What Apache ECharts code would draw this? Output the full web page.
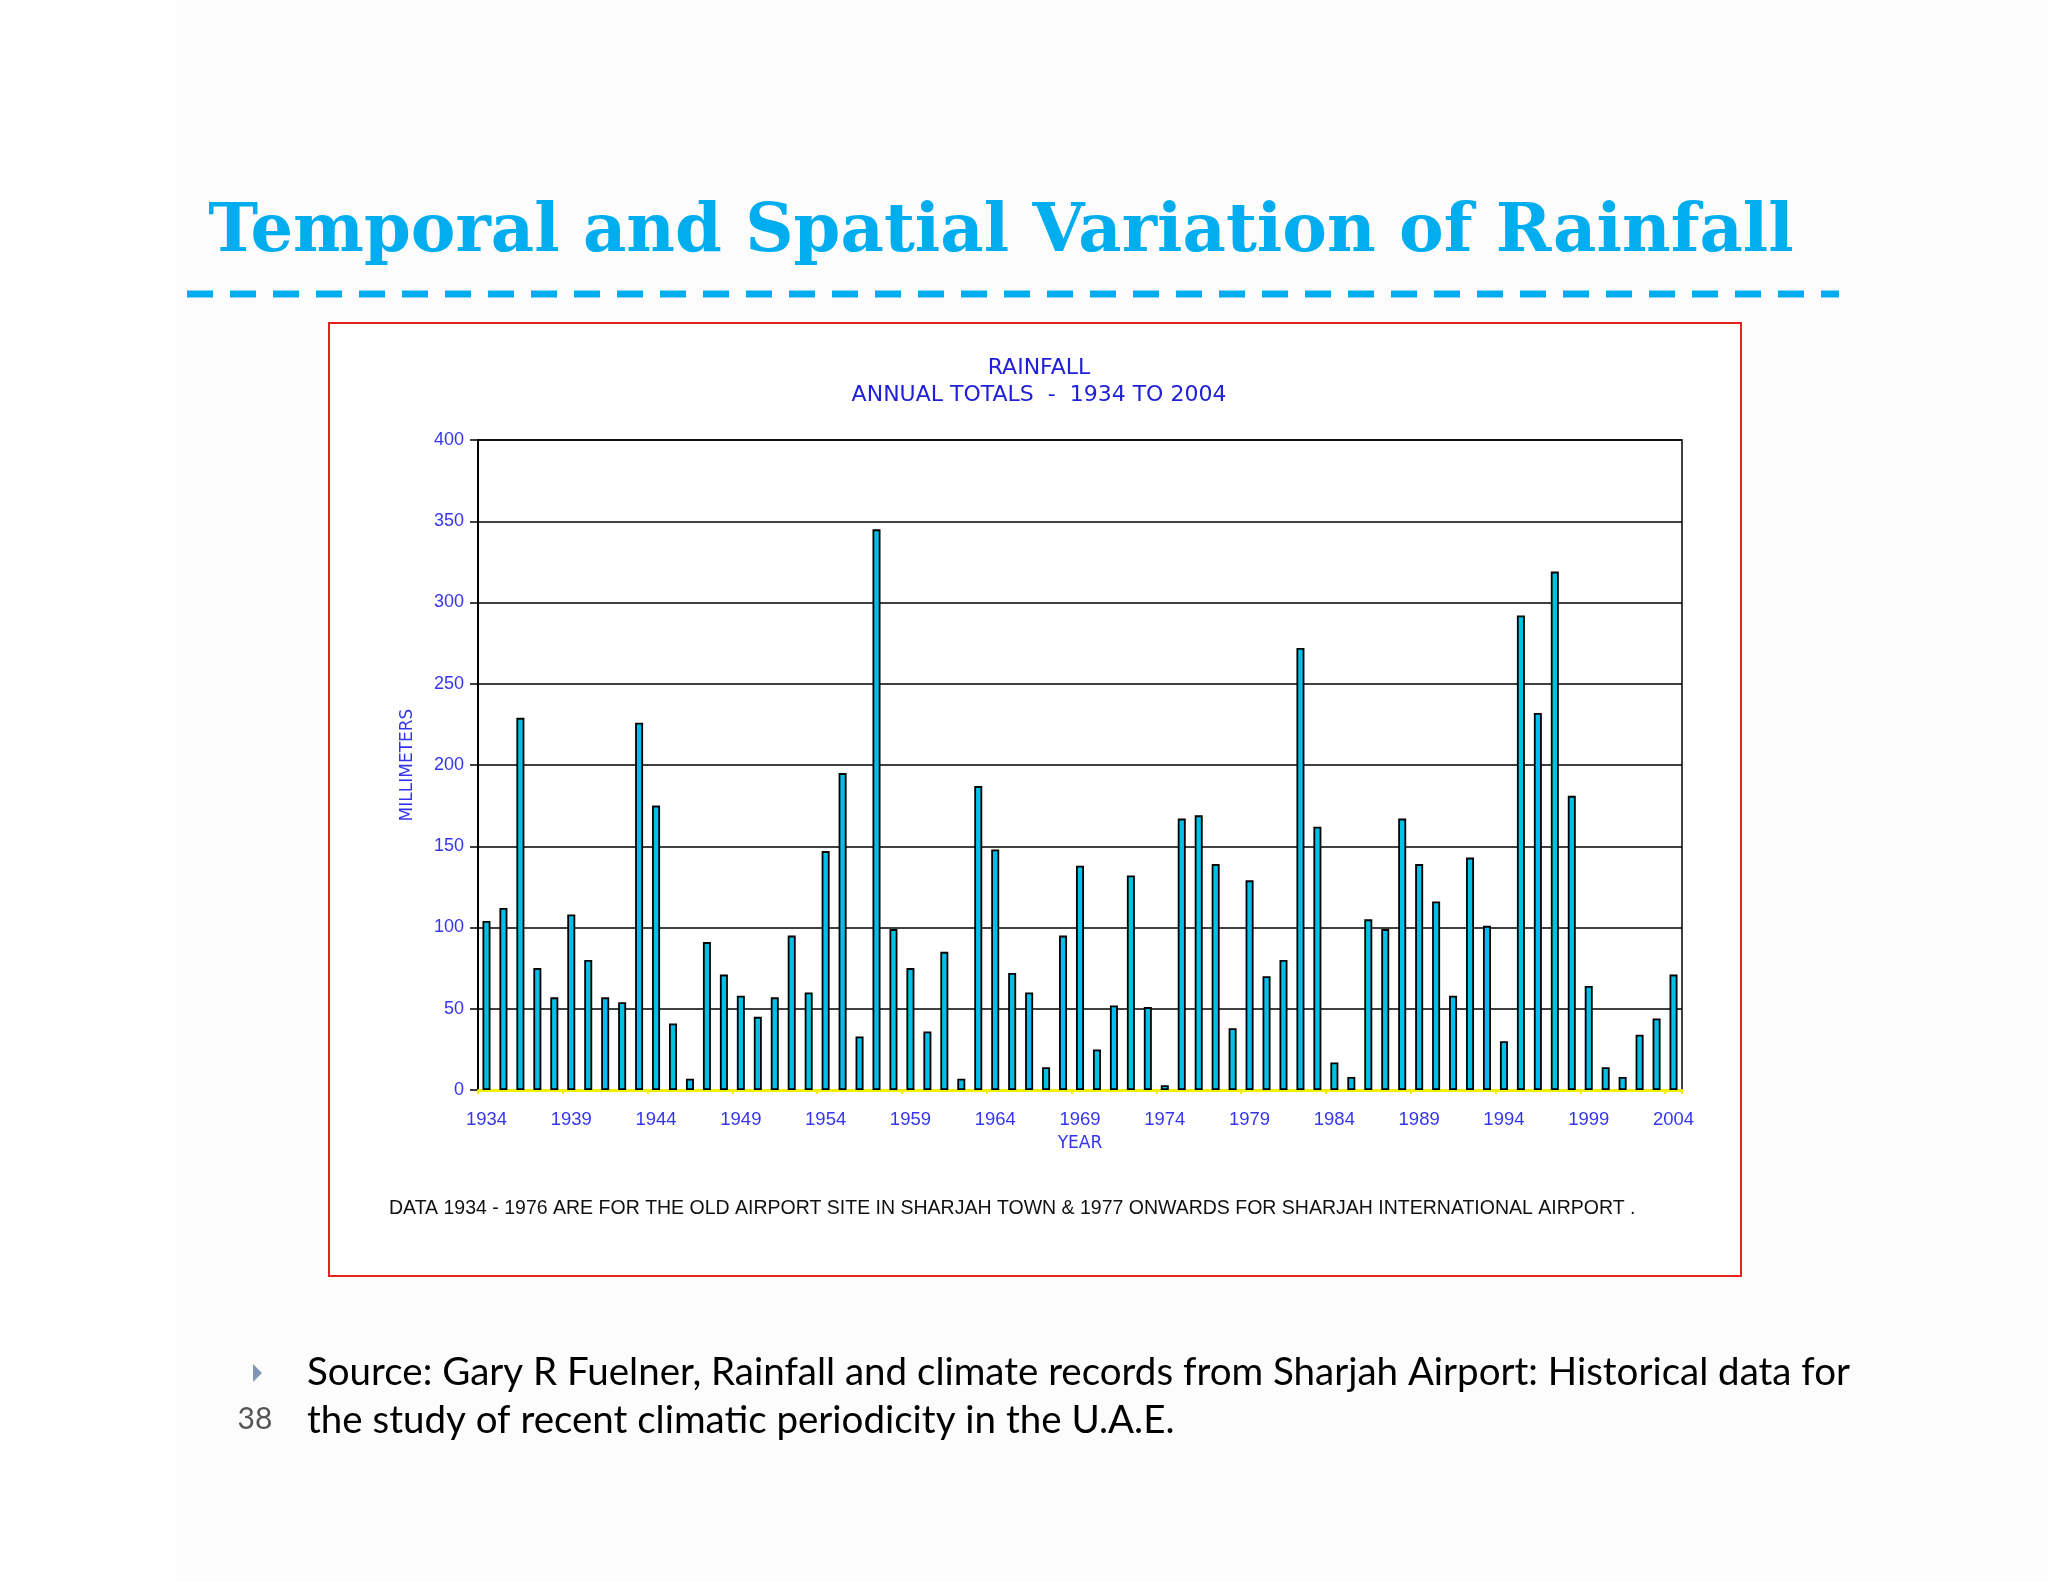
<!DOCTYPE html>
<html><head><meta charset="utf-8">
<script src="https://cdn.jsdelivr.net/npm/echarts@6/dist/echarts.min.js"></script>
<style>html,body{margin:0;padding:0;background:#fff}#c{width:2048px;height:1582px}</style>
</head><body><div id="c"></div>
<script>
const years = ['1934','1935','1936','1937','1938','1939','1940','1941','1942','1943','1944','1945','1946','1947','1948','1949','1950','1951','1952','1953','1954','1955','1956','1957','1958','1959','1960','1961','1962','1963','1964','1965','1966','1967','1968','1969','1970','1971','1972','1973','1974','1975','1976','1977','1978','1979','1980','1981','1982','1983','1984','1985','1986','1987','1988','1989','1990','1991','1992','1993','1994','1995','1996','1997','1998','1999','2000','2001','2002','2003','2004'];
const rainfall = [104,112,229,75,57,108,80,57,54,226,175,41,7,91,71,58,45,57,95,60,147,195,33,345,99,75,36,85,7,187,148,72,60,14,95,138,25,52,132,51,3,167,169,139,38,129,70,80,272,162,17,8,105,99,167,139,116,58,143,101,30,292,232,319,181,64,14,8,34,44,71];
const yMin = 0, yMax = 400, yStep = 50;
const slideTitle = 'Temporal and Spatial Variation of Rainfall';
const chartTitle = 'RAINFALL';
const chartSubtitle = 'ANNUAL TOTALS  -  1934 TO 2004';
const footnote = 'DATA 1934 - 1976 ARE FOR THE OLD AIRPORT SITE IN SHARJAH TOWN & 1977 ONWARDS FOR SHARJAH INTERNATIONAL AIRPORT .';
const sourceLine1 = 'Source: Gary R Fuelner, Rainfall and climate records from Sharjah Airport: Historical data for';
const sourceLine2 = 'the study of recent climatic periodicity in the U.A.E.';
const pageNo = '38';

const chart = echarts.init(document.getElementById('c'), null, {renderer: 'canvas'});
const blue = '#3535f0';
chart.setOption({
  backgroundColor: '#ffffff',
  animation: false,
  graphic: [
    {type: 'rect', z: -10, shape: {x: 176, y: 0, width: 1872, height: 1582}, style: {fill: '#fcfcfc'}},
    {type: 'text', x: 1001, y: 234, style: {text: slideTitle, fill: '#00aeef', font: 'bold 67px "DejaVu Serif"', textAlign: 'center', textVerticalAlign: 'middle'}},
    {type: 'line', shape: {x1: 187, y1: 294, x2: 1839, y2: 294}, style: {stroke: '#00aeef', lineWidth: 7, lineDash: [26, 17]}},
    {type: 'rect', z: -5, shape: {x: 329, y: 323, width: 1412, height: 953}, style: {fill: '#ffffff', stroke: '#e32222', lineWidth: 2}},
    {type: 'text', x: 389, y: 1209, style: {text: footnote, fill: '#111', font: '19.5px "Liberation Sans"', textAlign: 'left', textVerticalAlign: 'middle'}},
    {type: 'polygon', shape: {points: [[253, 1364], [262, 1373], [253, 1382]]}, style: {fill: '#8494b4'}},
    {type: 'text', x: 307, y: 1373, style: {text: sourceLine1, fill: '#000', font: '38.5px Lato', textAlign: 'left', textVerticalAlign: 'middle'}},
    {type: 'text', x: 307, y: 1421, style: {text: sourceLine2, fill: '#000', font: '38.5px Lato', textAlign: 'left', textVerticalAlign: 'middle'}},
    {type: 'text', x: 255, y: 1419, style: {text: pageNo, fill: '#555', font: '30px Lato', textAlign: 'center', textVerticalAlign: 'middle'}}
  ],
  title: {
    text: chartTitle + '\n' + chartSubtitle,
    left: 1034, top: 350, textAlign: 'center',
    textStyle: {color: '#2020d8', fontSize: 22, fontWeight: 'normal', fontFamily: 'DejaVu Sans', lineHeight: 27}
  },
  grid: {left: 478, right: 366, top: 440, bottom: 492, show: true, borderColor: '#000', borderWidth: 1.5, backgroundColor: 'transparent'},
  xAxis: {
    type: 'category', data: years,
    name: 'YEAR', nameLocation: 'middle', nameGap: 45,
    nameTextStyle: {color: blue, fontSize: 17, fontFamily: 'DejaVu Sans'},
    axisLine: {lineStyle: {color: '#f0f000', width: 3}},
    axisTick: {show: true, interval: 4, length: 4, lineStyle: {color: '#f0f000', width: 2}},
    axisLabel: {interval: 4, color: blue, fontSize: 18.5, margin: 20, fontFamily: 'Liberation Sans'}
  },
  yAxis: {
    type: 'value', min: yMin, max: yMax, interval: yStep,
    name: 'MILLIMETERS', nameLocation: 'middle', nameRotate: 90, nameGap: 62,
    nameTextStyle: {color: blue, fontSize: 17, fontFamily: 'DejaVu Sans'},
    axisLine: {show: true, lineStyle: {color: '#000', width: 2}},
    axisTick: {show: true, length: 8, lineStyle: {color: '#000', width: 1.5}},
    axisLabel: {color: blue, fontSize: 18, margin: 14, fontFamily: 'Liberation Sans'},
    splitLine: {show: true, lineStyle: {color: '#000', width: 1.5}}
  },
  series: [{
    type: 'bar', data: rainfall, barWidth: 8,
    itemStyle: {color: '#00c0e8', borderColor: '#000', borderWidth: 1.8}
  }]
});
</script></body></html>
